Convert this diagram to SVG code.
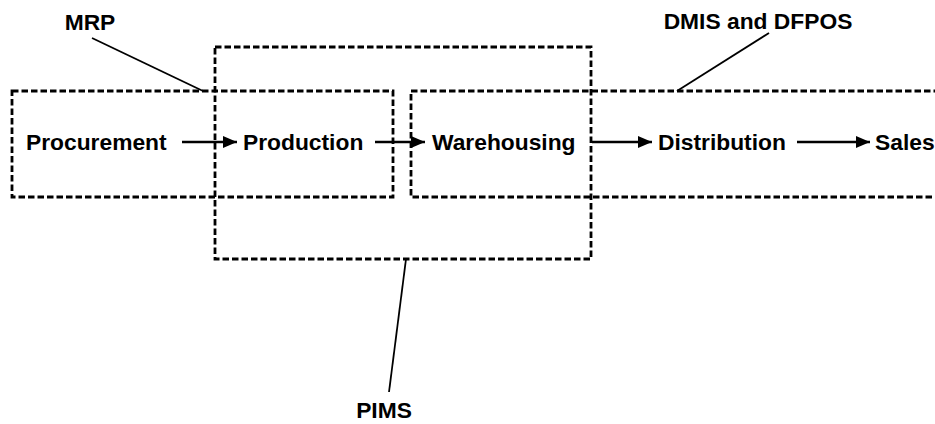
<svg xmlns="http://www.w3.org/2000/svg" width="935" height="424" viewBox="0 0 935 424">
<defs>
<style>
.box{fill:none;stroke:#000;stroke-width:2.8;stroke-dasharray:6.5 3}
.lbl{font-family:"Liberation Sans",Arial,sans-serif;font-weight:bold;font-size:22.8px;fill:#000}
.arr{stroke:#000;stroke-width:2.5;fill:none;marker-end:url(#ah)}
.lead{stroke:#000;stroke-width:1.8;fill:none}
</style>
<marker id="ah" viewBox="0 0 14 12" refX="14" refY="6" markerWidth="14" markerHeight="12" markerUnits="userSpaceOnUse" orient="auto">
<path d="M0,0 L14,6 L0,12 Z" fill="#000"/>
</marker>
</defs>
<rect width="935" height="424" fill="#fff"/>
<g id="group-mrp">
<rect class="box" x="12" y="91" width="381" height="106"/>
<text class="lbl" x="90" y="30" text-anchor="middle">MRP</text>
</g>
<g id="group-pims">
<rect class="box" x="215" y="47" width="376" height="212"/>
<text class="lbl" x="384" y="418" text-anchor="middle">PIMS</text>
</g>
<g id="group-dmis">
<rect class="box" x="411" y="91" width="540" height="106"/>
<text class="lbl" x="758" y="29" text-anchor="middle">DMIS and DFPOS</text>
</g>
<g id="procurement"><text class="lbl" x="26" y="150">Procurement</text></g>
<g id="production"><text class="lbl" x="243" y="150">Production</text></g>
<g id="warehousing"><text class="lbl" x="432" y="150">Warehousing</text></g>
<g id="distribution"><text class="lbl" x="658" y="150">Distribution</text></g>
<g id="sales"><text class="lbl" x="875" y="150">Sales</text></g>
<g id="connectors">
<line class="arr" x1="182" y1="142" x2="237" y2="142"/>
<line class="arr" x1="375" y1="142" x2="425" y2="142"/>
<line class="arr" x1="592" y1="142" x2="652" y2="142"/>
<line class="arr" x1="797" y1="142" x2="870" y2="142"/>
<line class="lead" x1="92" y1="38" x2="203" y2="91"/>
<line class="lead" x1="769" y1="33" x2="677" y2="91"/>
<line class="lead" x1="406" y1="259" x2="389" y2="392"/>
</g>
</svg>
